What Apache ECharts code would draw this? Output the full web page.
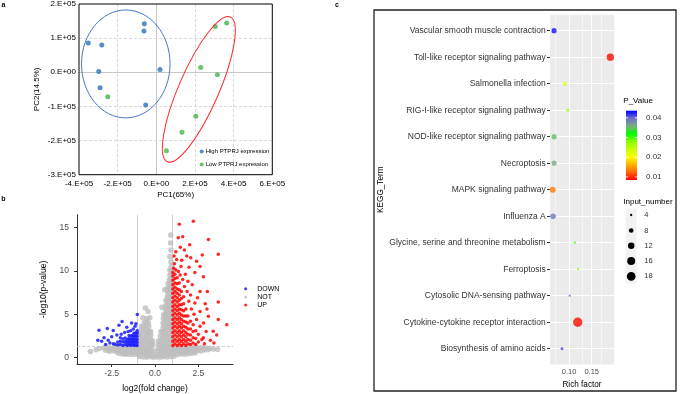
<!DOCTYPE html>
<html>
<head>
<meta charset="utf-8">
<script src="https://cdn.jsdelivr.net/npm/echarts@6.0.0/dist/echarts.min.js"></script>
<style>
html,body{margin:0;padding:0;background:#fff;}
#chart{width:681px;height:394px;}
</style>
</head>
<body>
<div id="chart"></div>
<script>
// ---------------- Panel a : PCA ----------------
const pcaGroups = ['High PTPRJ expression', 'Low PTPRJ expression'];
const pcaHigh = [[-62000,142000],[-64000,121000],[-352000,86000],[-282000,80000],[-298000,2000],[-291000,-45000],[-55000,-96000],[19000,8000]];
const pcaLow = [[-251000,-72000],[305000,134000],[364000,144000],[230000,14000],[316000,-7000],[204000,-129000],[133000,-176000],[52000,-230000]];
// ellipses: centre, end of one semi-axis, end of the other semi-axis (data units)
const ellipseHigh = {center:[-158000,24500], axisEnd:[71000,24500], otherEnd:[-158000,182500]};
const ellipseLow = {center:[220000,-50000], axisEnd:[383000,162000], otherEnd:[125000,-27000]};

// ---------------- Panel b : volcano ----------------
const volcanoGroups = ['DOWN', 'NOT', 'UP'];
const volcanoXTicks = [-2.5, 0, 2.5];
const volcanoYTicks = [0, 5, 10, 15];
const volcanoNot = [
[-3.2,1.05],[-2.95,1.15],[-2.75,1.2],[-2.55,1.1],[-2.35,1.22],[-2.15,1.12],[-1.95,1.2],[-1.75,1.1],[-1.55,1.22],[-1.35,1.12],[-1.15,1.2],[-0.95,1.1],[-0.75,1.2],[-0.55,1.12],[-0.35,1.2],[-0.2,1.1],[0.18,1.12],[0.35,1.2],[0.55,1.1],[0.75,1.2],[0.95,1.12],[1.15,1.2],[1.35,1.1],[1.55,1.2],[1.75,1.12],[1.95,1.2],[2.15,1.1],[2.35,1.2],[2.55,1.12],[2.75,1.18],[2.95,1.1],[3.15,1.05],[3.35,1.0],
[-2.85,0.85],[-2.65,0.75],[-2.45,0.8],[-2.25,0.7],[-2.05,0.78],[-1.85,0.7],[-1.65,0.76],[-1.45,0.68],[-1.25,0.75],[-1.05,0.7],[-0.85,0.76],[-0.65,0.68],[-0.45,0.74],[-0.25,0.7],[-0.12,0.78],[0.12,0.75],[0.25,0.7],[0.45,0.76],[0.65,0.68],[0.85,0.75],[1.05,0.7],[1.25,0.76],[1.45,0.68],[1.65,0.75],[1.85,0.7],[2.05,0.78],[2.25,0.72],[2.45,0.8],[2.65,0.78],[2.85,0.88],[3.05,0.9],
[-2.1,0.5],[-1.9,0.42],[-1.7,0.38],[-1.5,0.4],[-1.3,0.35],[-1.1,0.4],[-0.9,0.32],[-0.7,0.38],[-0.5,0.3],[-0.3,0.36],[-0.1,0.3],[0.1,0.32],[0.3,0.36],[0.5,0.3],[0.7,0.38],[0.9,0.33],[1.1,0.4],[1.3,0.36],[1.5,0.42],[1.7,0.4],[1.9,0.45],[2.1,0.5],[2.3,0.55],
[-0.9,0.12],[-0.7,0.08],[-0.5,0.05],[-0.3,0.1],[-0.1,0.06],[0.1,0.08],[0.3,0.05],[0.5,0.1],[0.7,0.08],[0.9,0.12],[1.1,0.15],
[-2.6,0.95],[-2.3,0.95],[-2.0,0.98],[-1.7,0.95],[-1.4,0.92],[-1.1,0.95],[-0.8,0.95],[-0.5,0.92],[0.4,0.95],[0.7,0.92],[1.0,0.95],[1.3,0.92],[1.6,0.95],[1.9,0.92],[2.2,0.95],[2.5,0.98],[2.8,1.0],
[-1.8,0.55],[-1.6,0.55],[-1.2,0.55],[-0.8,0.55],[-0.4,0.52],[0.4,0.52],[0.8,0.55],[1.2,0.55],[1.6,0.58],[2.0,0.62],
[-0.95,1.6],[-0.97,2.1],[-0.95,2.6],[-0.98,3.0],
[-0.82,1.65],[-0.8,2.15],[-0.83,2.65],[-0.8,3.15],[-0.78,3.6],
[-0.66,1.6],[-0.65,2.1],[-0.67,2.6],[-0.64,3.1],[-0.66,3.6],[-0.62,4.05],
[-0.5,1.65],[-0.51,2.15],[-0.49,2.65],[-0.5,3.15],[-0.52,3.65],[-0.48,4.1],[-0.47,4.5],
[-0.36,1.6],[-0.35,2.1],[-0.37,2.6],[-0.34,3.1],[-0.36,3.6],[-0.38,4.0],
[-0.23,1.6],[-0.22,2.1],[-0.24,2.6],[-0.25,3.0],
[-0.12,1.5],[-0.13,1.9],
[0.2,1.5],[0.21,1.95],
[0.32,1.5],[0.33,2.0],[0.31,2.5],[0.34,3.0],
[0.45,1.5],[0.44,2.0],[0.46,2.5],[0.45,3.0],[0.47,3.5],[0.46,4.0],[0.48,4.5],[0.5,4.95],
[0.58,1.5],[0.57,2.0],[0.59,2.5],[0.58,3.0],[0.6,3.5],[0.57,4.0],[0.59,4.5],[0.6,5.0],[0.61,5.5],[0.62,6.0],[0.63,6.6],
[0.7,1.5],[0.71,2.0],[0.69,2.5],[0.7,3.0],[0.72,3.5],[0.7,4.0],[0.71,4.5],[0.69,5.0],[0.72,5.5],[0.7,6.0],[0.73,6.5],[0.71,7.0],[0.74,7.5],[0.73,8.0],[0.75,8.5],
[0.82,1.5],[0.83,2.0],[0.81,2.5],[0.82,3.0],[0.84,3.5],[0.82,4.0],[0.83,4.5],[0.81,5.0],[0.84,5.5],[0.82,6.0],[0.83,6.5],[0.81,7.0],[0.84,7.5],[0.82,8.0],[0.85,8.5],[0.83,9.0],[0.86,9.5],[0.85,10.1],
[0.93,1.5],[0.94,2.0],[0.92,2.5],[0.93,3.0],[0.95,3.5],[0.93,4.0],[0.94,4.5],[0.92,5.0],[0.95,5.5],[0.93,6.0],[0.94,6.5],[0.92,7.0],[0.95,7.5],[0.93,8.0],[0.94,8.5],[0.92,9.0],[0.95,9.5],[0.93,10.0],[0.94,10.5],[0.92,11.0],
[0.85,11.6],[0.92,12.4],[0.9,13.2],[0.91,14.1],[0.56,7.8],[-0.4,5.3],[-0.56,5.7],[-0.7,4.6],[-3.73,0.7],[-3.4,0.9],[3.6,0.95],[0.4,5.8],[-0.3,4.6]
];
const volcanoDown = [
[-1.03,1.4],[-1.03,1.75],[-1.03,2.1],[-1.03,2.45],[-1.03,2.8],[-1.03,3.1],
[-1.12,1.45],[-1.12,1.8],[-1.12,2.15],[-1.12,2.5],[-1.12,2.85],
[-1.21,1.4],[-1.21,1.75],[-1.21,2.1],[-1.21,2.45],[-1.21,2.8],
[-1.3,1.5],[-1.3,1.85],[-1.3,2.2],[-1.3,2.55],
[-1.4,1.4],[-1.4,1.75],[-1.4,2.1],[-1.4,2.5],
[-1.5,1.5],[-1.5,1.85],[-1.5,2.2],[-1.5,2.55],
[-1.6,1.4],[-1.6,1.75],[-1.6,2.1],
[-1.72,1.5],[-1.72,1.85],[-1.72,2.25],
[-1.85,1.4],[-1.85,1.8],[-1.85,2.15],
[-2.0,1.5],[-2.0,1.9],[-2.15,1.45],[-2.15,1.8],[-2.3,1.55],
[-3.23,3.14],[-2.75,3.35],[-2.94,2.29],[-3.08,1.9],[-2.41,3.13],[-1.9,4.16],[-2.08,3.74],[-1.63,3.5],[-1.02,4.96],[-2.5,2.4],[-2.6,1.7],[-2.85,1.5],[-2.2,2.6],[-1.95,2.7],[-1.75,2.9],[-1.4,3.1],[-1.25,3.3],[-1.15,3.6],[-2.4,1.6],[-2.7,2.0],[-3.3,2.0],[-2.0,2.3],[-1.55,3.0],[-1.1,3.9],[-1.35,4.0]
];
const volcanoUp = [
[1.03,1.4],[1.03,1.9],[1.03,2.4],[1.03,2.9],[1.03,3.4],[1.03,3.9],[1.03,4.4],[1.03,4.9],[1.03,5.4],[1.03,5.9],[1.03,6.4],[1.03,6.9],[1.03,7.4],[1.03,7.9],[1.03,8.4],[1.03,8.9],[1.03,9.4],[1.03,9.8],
[1.15,1.6],[1.15,2.1],[1.15,2.6],[1.15,3.1],[1.15,3.6],[1.15,4.1],[1.15,4.6],[1.15,5.1],[1.15,5.6],[1.15,6.1],[1.15,6.6],[1.15,7.1],[1.15,7.6],[1.15,8.1],[1.15,8.6],[1.15,9.1],[1.15,9.6],
[1.28,1.4],[1.28,1.9],[1.28,2.4],[1.28,2.9],[1.28,3.4],[1.28,3.9],[1.28,4.4],[1.28,4.9],[1.28,5.4],[1.28,5.9],[1.28,6.4],[1.28,6.9],[1.28,7.4],[1.28,7.9],[1.28,8.5],[1.28,9.2],
[1.4,1.6],[1.4,2.1],[1.4,2.6],[1.4,3.1],[1.4,3.6],[1.4,4.1],[1.4,4.6],[1.4,5.1],[1.4,5.6],[1.4,6.1],[1.4,6.6],[1.4,7.2],[1.4,7.8],[1.4,8.6],
[1.52,1.4],[1.52,1.9],[1.52,2.4],[1.52,2.9],[1.52,3.4],[1.52,3.9],[1.52,4.4],[1.52,4.9],[1.52,5.5],[1.52,6.1],[1.52,6.8],[1.52,7.6],
[1.65,1.6],[1.65,2.1],[1.65,2.6],[1.65,3.1],[1.65,3.6],[1.65,4.2],[1.65,4.8],[1.65,5.4],[1.65,6.2],[1.65,7.0],
[1.78,1.4],[1.78,1.9],[1.78,2.4],[1.78,2.9],[1.78,3.5],[1.78,4.1],[1.78,4.8],[1.78,5.6],
[1.9,1.6],[1.9,2.1],[1.9,2.7],[1.9,3.3],[1.9,4.0],[1.9,4.8],
[2.05,1.5],[2.05,2.0],[2.05,2.6],[2.05,3.3],[2.05,4.2],
[2.2,1.7],[2.2,2.3],[2.2,3.0],[2.2,3.8],
[2.35,1.5],[2.35,2.2],[2.35,3.1],[2.5,1.8],[2.5,2.7],
[1.08,10.3],[1.2,10.1],[1.35,9.9],[1.12,10.8],[1.25,11.3],[1.5,10.5],[1.45,9.5],[1.6,9.0],[1.7,8.2],[1.85,7.6],[1.95,6.5],[2.1,5.6],[2.25,5.0],[2.4,4.4],[2.6,3.6],[2.7,2.1],[2.85,1.6],[2.95,3.0],[2.3,6.3],[2.05,7.2],[1.75,9.6],[1.9,8.8],[2.15,8.4],[2.45,6.9],[2.6,5.3],[2.8,4.0],
[2.21,15.7],[1.4,15.35],[1.6,13.9],[1.34,13.8],[3.08,13.6],[1.46,12.7],[3.65,11.9],[2.73,11.8],[2.06,11.5],[1.83,11.7],[1.54,11.2],[2.4,11.1],[1.96,10.4],[2.6,10.5],[3.65,6.4],[3.02,7.6],[2.79,9.3],[2.6,7.6],[3.65,4.4],[4.14,3.8],[3.08,4.77],[3.36,3.05],[3.56,2.6],[2.79,2.3],[1.2,12.2],[1.7,12.4],[2.3,9.8],[1.1,11.7],[2.0,13.0],[3.2,2.0],[3.4,1.7],[3.0,5.6],[2.9,6.2]
];

// ---------------- Panel c : KEGG enrichment ----------------
const keggTerms = ['Vascular smooth muscle contraction','Toll-like receptor signaling pathway','Salmonella infection','RIG-I-like receptor signaling pathway','NOD-like receptor signaling pathway','Necroptosis','MAPK signaling pathway','Influenza A','Glycine, serine and threonine metabolism','Ferroptosis','Cytosolic DNA-sensing pathway','Cytokine-cytokine receptor interaction','Biosynthesis of amino acids'];
const richFactor = [0.067,0.191,0.0912,0.0971,0.067,0.067,0.0641,0.0648,0.1126,0.1198,0.1015,0.1192,0.0846];
const inputNumber = [9,14,7,5,9,9,11,10,4,4,4,20,5];
const pValue = [0.043,0.0088,0.022,0.026,0.035,0.036,0.0135,0.039,0.030,0.027,0.040,0.009,0.041];
const richTicks = [0.10, 0.15];
const pTicks = [0.04, 0.03, 0.02, 0.01];
const sizeBreaks = [4, 8, 12, 16, 18];

// ---------------- styling ----------------
const FONT = 'Liberation Sans';
const P_MIN = 0.0085, P_MAX = 0.0436;
const pColors = ['#FF0000','#FF6600','#FFB300','#FFFF00','#C6FF00','#88FF00','#00FF00','#78AE80','#6E6ECC','#0000FF'];
function sizeOf(n){ return 2.3 + 2.86 * (Math.sqrt(n) - 2); }
function sci(v){
  if (v === 0) return '0.E+00';
  const e = Math.floor(Math.log10(Math.abs(v)) + 1e-9);
  const m = Math.round(v / Math.pow(10, e));
  return m + '.E' + (e < 0 ? '-' : '+') + String(Math.abs(e)).padStart(2, '0');
}
const noLine = {silent:true, z:1, symbol:['none','none'], label:{show:false}, emphasis:{disabled:true}, animation:false};
const catIdx = keggTerms.map((t, i) => i);

const chart = echarts.init(document.getElementById('chart'), null, {renderer:'canvas'});

const option = {
  animation: false,
  backgroundColor: '#fff',
  textStyle: {fontFamily: FONT},
  grid: [
    {left:79, top:3, width:193.3, height:171.7, show:false},
    {left:77, top:214.7, width:156, height:150, show:false},
    {left:550, top:14.8, width:64, height:349.8, show:true, backgroundColor:'#EBEBEB', borderWidth:0}
  ],
  xAxis: [
    {gridIndex:0, type:'value', min:-400000, max:600000, interval:200000,
     axisLine:{show:false}, axisTick:{show:false},
     axisLabel:{formatter:sci, fontSize:8, color:'#000', margin:5, fontFamily:FONT},
     splitLine:{show:true, showMinLine:false, showMaxLine:false, lineStyle:{color:'#D9D9D9', type:[3,2], width:1}},
     name:'PC1(65%)', nameLocation:'middle', nameGap:16, nameTextStyle:{fontSize:8, color:'#000', fontFamily:FONT}},
    {gridIndex:1, type:'value', min:-4.5, max:4.5,
     axisLine:{show:true, onZero:false, lineStyle:{color:'#333', width:1}},
     axisTick:{show:true, length:3, customValues:volcanoXTicks, lineStyle:{color:'#333'}},
     axisLabel:{customValues:volcanoXTicks, formatter:v => v.toFixed(1), fontSize:8.5, color:'#4D4D4D', margin:5, fontFamily:FONT},
     splitLine:{show:false},
     name:'log2(fold change)', nameLocation:'middle', nameGap:20, nameTextStyle:{fontSize:8.5, color:'#000', fontFamily:FONT}},
    {gridIndex:2, type:'value', min:0.0581, max:0.1991,
     axisLine:{show:false},
     axisTick:{show:true, length:3, customValues:richTicks, lineStyle:{color:'#333'}},
     axisLabel:{customValues:richTicks, formatter:v => v.toFixed(2), fontSize:7.5, color:'#4D4D4D', margin:3, fontFamily:FONT},
     splitLine:{show:false},
     name:'Rich factor', nameLocation:'middle', nameGap:15, nameTextStyle:{fontSize:8.2, color:'#000', fontFamily:FONT}}
  ],
  yAxis: [
    {gridIndex:0, type:'value', min:-300000, max:200000, interval:100000,
     axisLine:{show:false}, axisTick:{show:false},
     axisLabel:{formatter:sci, fontSize:8, color:'#000', margin:3, fontFamily:FONT},
     splitLine:{show:true, showMinLine:false, showMaxLine:false, lineStyle:{color:'#D9D9D9', type:[3,2], width:1}},
     name:'PC2(14.5%)', nameLocation:'middle', nameRotate:90, nameGap:38, nameTextStyle:{fontSize:8, color:'#000', fontFamily:FONT}},
    {gridIndex:1, type:'value', min:-0.73, max:16.45,
     axisLine:{show:true, onZero:false, lineStyle:{color:'#333', width:1}},
     axisTick:{show:true, length:3, customValues:volcanoYTicks, lineStyle:{color:'#333'}},
     axisLabel:{customValues:volcanoYTicks, fontSize:8.5, color:'#4D4D4D', margin:8, fontFamily:FONT},
     splitLine:{show:false},
     name:'-log10(p-value)', nameLocation:'middle', nameRotate:90, nameGap:29, nameTextStyle:{fontSize:8.5, color:'#000', fontFamily:FONT}},
    {gridIndex:2, type:'value', inverse:true, min:-0.6, max:12.6,
     axisLine:{show:false},
     axisTick:{show:true, length:3, customValues:catIdx, lineStyle:{color:'#333'}},
     axisLabel:{customValues:catIdx, formatter:v => keggTerms[Math.round(v)], fontSize:8.5, color:'#333', margin:4.3, fontFamily:FONT},
     splitLine:{show:false},
     name:'KEGG_Term', nameLocation:'middle', nameRotate:90, nameGap:165, nameTextStyle:{fontSize:8.2, color:'#000', fontFamily:FONT}}
  ],
  legend: [
    {data:pcaGroups.map(n => ({name:n, icon:'circle'})), orient:'vertical', left:194.7, top:143.5,
     itemWidth:4, itemHeight:4, itemGap:7, selectedMode:false,
     textStyle:{fontSize:6, color:'#000', fontFamily:FONT, padding:[0,0,0,-3]}},
    {data:volcanoGroups.map(n => ({name:n, icon:'circle'})), orient:'vertical', left:239.2, top:280.2,
     itemWidth:13, itemHeight:3, itemGap:1.2, selectedMode:false,
     textStyle:{fontSize:7, color:'#000', fontFamily:FONT}}
  ],
  visualMap: [
    {type:'continuous', show:false, seriesIndex:8, dimension:3, min:P_MIN, max:P_MAX, inRange:{color:pColors}}
  ],
  series: [
    {type:'line', xAxisIndex:0, yAxisIndex:0, data:[], z:1, silent:true,
     markLine:Object.assign({}, noLine, {lineStyle:{color:'#C8C8C8', width:1, type:'solid'}, data:[{xAxis:0},{yAxis:0}]})},
    {name:pcaGroups[0], type:'scatter', xAxisIndex:0, yAxisIndex:0, data:pcaHigh, symbolSize:5, itemStyle:{color:'#2B70B8'}, z:3},
    {name:pcaGroups[1], type:'scatter', xAxisIndex:0, yAxisIndex:0, data:pcaLow, symbolSize:5, itemStyle:{color:'#45B449'}, z:3},
    {type:'line', xAxisIndex:1, yAxisIndex:1, data:[], z:1, silent:true,
     markLine:Object.assign({}, noLine, {data:[
       {xAxis:-1, lineStyle:{color:'#CFCFCF', width:1, type:'solid'}},
       {xAxis:1, lineStyle:{color:'#CFCFCF', width:1, type:'solid'}},
       {yAxis:1.3, lineStyle:{color:'#C4C4C4', width:0.8, type:[3,2]}}]})},
    {name:'NOT', type:'scatter', xAxisIndex:1, yAxisIndex:1, data:volcanoNot, symbolSize:5.5, itemStyle:{color:'#BEBEBE'}, z:2, silent:true},
    {name:'DOWN', type:'scatter', xAxisIndex:1, yAxisIndex:1, data:volcanoDown, symbolSize:3.5, itemStyle:{color:'#1A1AFF', opacity:0.85}, z:3, silent:true},
    {name:'UP', type:'scatter', xAxisIndex:1, yAxisIndex:1, data:volcanoUp, symbolSize:3.5, itemStyle:{color:'#FF0000', opacity:0.85}, z:3, silent:true},
    {type:'line', xAxisIndex:2, yAxisIndex:2, data:[], z:1, silent:true,
     markLine:Object.assign({}, noLine, {data:
       catIdx.map(i => ({yAxis:i, lineStyle:{color:'#FFFFFF', width:1, type:'solid'}}))
       .concat(richTicks.map(v => ({xAxis:v, lineStyle:{color:'#FFFFFF', width:1, type:'solid'}})))
       .concat([0.075,0.125,0.175].map(v => ({xAxis:v, lineStyle:{color:'#FFFFFF', width:0.5, type:'solid'}})))})},
    {name:'KEGG', type:'scatter', xAxisIndex:2, yAxisIndex:2, z:3,
     data:keggTerms.map((t, i) => [richFactor[i], i, inputNumber[i], pValue[i]]),
     symbolSize:v => sizeOf(v[2])}
  ]
};
chart.setOption(option);

// ---------------- decorations placed after layout ----------------
const g = [];
function placeEllipse(e, color){
  const c = chart.convertToPixel({gridIndex:0}, e.center);
  const m = chart.convertToPixel({gridIndex:0}, e.axisEnd);
  const n = chart.convertToPixel({gridIndex:0}, e.otherEnd);
  const dx = m[0] - c[0], dy = m[1] - c[1];
  return {type:'ellipse', x:c[0], y:c[1], rotation:Math.atan2(-dy, dx),
          shape:{cx:0, cy:0, rx:Math.hypot(dx, dy), ry:Math.hypot(n[0]-c[0], n[1]-c[1])},
          style:{fill:'none', stroke:color, lineWidth:1}, z:50, silent:true};
}
g.push(placeEllipse(ellipseHigh, '#4A78C8'));
g.push(placeEllipse(ellipseLow, '#FF2A2A'));
const a0 = chart.convertToPixel({gridIndex:0}, [-400000, 200000]);
const a1 = chart.convertToPixel({gridIndex:0}, [600000, -300000]);
g.push({type:'rect', shape:{x:a0[0], y:a0[1], width:a1[0]-a0[0], height:a1[1]-a0[1]},
        style:{fill:'none', stroke:'#000', lineWidth:1}, z:60, silent:true});

// panel labels
[['a',3.5,5],['b',3.5,199.5],['c',337,5]].forEach(p => g.push({type:'text', x:p[1], y:p[2],
  style:{text:p[0], font:'bold 7px ' + FONT, fill:'#000', textAlign:'center', textVerticalAlign:'middle'}, z:60}));

// panel c frame
g.push({type:'rect', shape:{x:374, y:10, width:302, height:381}, style:{fill:'none', stroke:'#222', lineWidth:1.3}, z:60, silent:true});

// P_Value colour bar
const barX = 626, barY = 110.7, barW = 11, barH = 69.3;
g.push({type:'text', x:623.3, y:100.7, style:{text:'P_Value', font:'8px ' + FONT, fill:'#000', textVerticalAlign:'middle'}, z:60});
g.push({type:'rect', shape:{x:barX, y:barY, width:barW, height:barH},
  style:{fill:{type:'linear', x:0, y:0, x2:0, y2:1, global:false,
    colorStops:pColors.slice().reverse().map((c, i, arr) => ({offset:i/(arr.length-1), color:c}))}}, z:60, silent:true});
pTicks.forEach(v => {
  const y = barY + (P_MAX - v) / (P_MAX - P_MIN) * barH;
  g.push({type:'line', shape:{x1:barX, y1:y, x2:barX+2.2, y2:y}, style:{stroke:'#fff', lineWidth:0.8}, z:61, silent:true});
  g.push({type:'line', shape:{x1:barX+barW-2.2, y1:y, x2:barX+barW, y2:y}, style:{stroke:'#fff', lineWidth:0.8}, z:61, silent:true});
  g.push({type:'text', x:646, y:y, style:{text:v.toFixed(2), font:'8px ' + FONT, fill:'#333', textVerticalAlign:'middle'}, z:60});
});

// Input_number size legend
g.push({type:'text', x:623.3, y:201.7, style:{text:'Input_number', font:'8px ' + FONT, fill:'#000', textVerticalAlign:'middle'}, z:60});
g.push({type:'rect', shape:{x:625.7, y:208.5, width:11, height:75}, style:{fill:'#F2F2F2'}, z:59, silent:true});
const rowY = [215, 230.5, 245.8, 261, 276.3];
sizeBreaks.forEach((n, i) => {
  g.push({type:'circle', shape:{cx:631.2, cy:rowY[i], r:sizeOf(n)/2}, style:{fill:'#000'}, z:60, silent:true});
  g.push({type:'text', x:644.3, y:rowY[i], style:{text:String(n), font:'7.5px ' + FONT, fill:'#333', textVerticalAlign:'middle'}, z:60});
});

chart.setOption({graphic:{elements:g}});
</script>
</body>
</html>
